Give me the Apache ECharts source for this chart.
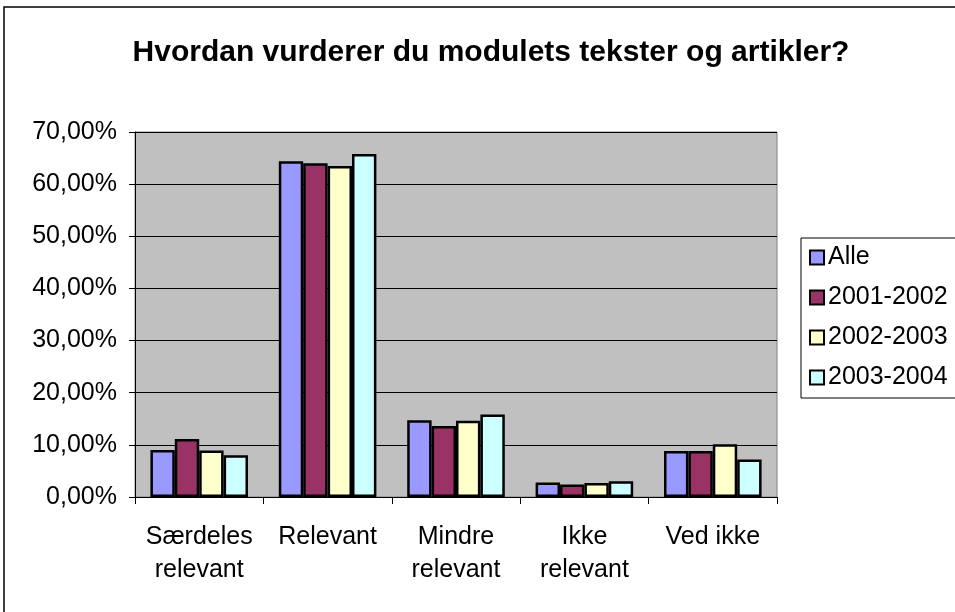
<!DOCTYPE html>
<html>
<head>
<meta charset="utf-8">
<script src="https://cdn.jsdelivr.net/npm/echarts@6/dist/echarts.min.js"></script>
<style>
html,body{margin:0;padding:0;background:#fff;}
#c{width:955px;height:612px;}
</style>
</head>
<body>
<div id="c"></div>
<script>
const categories = ["Særdeles\nrelevant", "Relevant", "Mindre\nrelevant", "Ikke\nrelevant", "Ved ikke"];
const seriesNames = ["Alle", "2001-2002", "2002-2003", "2003-2004"];
const alle = [9.0, 64.4, 14.7, 2.8, 8.8];
const y2001 = [11.1, 64.0, 13.6, 2.4, 8.8];
const y2002 = [8.9, 63.5, 14.6, 2.7, 10.1];
const y2003 = [8.0, 65.8, 15.8, 3.0, 7.2];
const colors = ["#9999FF", "#993366", "#FFFFCC", "#CCFFFF"];
const FONT = "'Liberation Sans', Arial, sans-serif";

const chart = echarts.init(document.getElementById('c'), null, {renderer: 'canvas'});
const dataSets = [alle, y2001, y2002, y2003];
chart.setOption({
  animation: false,
  backgroundColor: '#fff',
  title: {
    text: 'Hvordan vurderer du modulets tekster og artikler?',
    left: 486, textAlign: 'center', top: 33,
    textStyle: {fontFamily: FONT, fontSize: 30, fontWeight: 'bold', color: '#000'}
  },
  graphic: [{
    type: 'rect', shape: {x: 4, y: 7, width: 1000, height: 700},
    style: {fill: 'none', stroke: '#000', lineWidth: 1.5}, z: 0
  }],
  legend: {
    orient: 'vertical', left: 801, top: 238,
    data: seriesNames,
    icon: 'rect', itemWidth: 14, itemHeight: 14,
    itemGap: 15,
    padding: [7, 60, 8, 8],
    backgroundColor: '#fff', borderColor: '#000', borderWidth: 1,
    itemStyle: {borderColor: '#000', borderWidth: 2},
    textStyle: {fontFamily: FONT, fontSize: 25, color: '#000', lineHeight: 25, padding: [0,0,0,-1]}
  },
  grid: {
    left: 135, top: 132, right: 178, bottom: 115,
    show: true, backgroundColor: '#C0C0C0', borderColor: '#808080', borderWidth: 1
  },
  xAxis: {
    type: 'category', data: categories,
    axisLine: {lineStyle: {color: '#000', width: 1}},
    axisTick: {show: true, alignWithLabel: false, length: 7, lineStyle: {color: '#000'}},
    axisLabel: {fontFamily: FONT, fontSize: 25, color: '#000', lineHeight: 33, margin: 24, interval: 0}
  },
  yAxis: {
    type: 'value', min: 0, max: 70, interval: 10,
    axisLine: {show: true, lineStyle: {color: '#000', width: 1}},
    axisTick: {show: true, length: 6, lineStyle: {color: '#000'}},
    splitLine: {show: true, lineStyle: {color: '#000', width: 1}},
    axisLabel: {fontFamily: FONT, fontSize: 25, color: '#000', margin: 18,
      formatter: v => v.toFixed(2).replace('.', ',') + '%'}
  },
  series: seriesNames.map((n, i) => ({
    name: n, type: 'bar', data: dataSets[i],
    barGap: '0%', barCategoryGap: '24%',
    itemStyle: {color: colors[i], borderColor: '#000', borderWidth: 2.5}
  }))
});
</script>
</body>
</html>
